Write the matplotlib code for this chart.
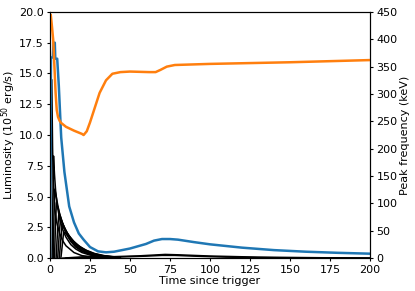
import matplotlib.pyplot as plt

# total luminosity (10^50 erg/s)
t_tot = [0, 0.6, 1.8, 2.2, 3.0, 3.3, 4.5, 5.5, 7, 9, 12, 15, 18, 21, 25, 30, 35, 40,
         50, 60, 65, 70, 75, 80, 90, 100, 120, 140, 160, 180, 200]
lum_tot = [0, 16.3, 16.3, 17.5, 17.5, 16.2, 16.2, 14.0, 9.8, 7.0, 4.2, 2.9, 2.0, 1.5,
           0.9, 0.55, 0.47, 0.52, 0.78, 1.15, 1.42, 1.55, 1.55, 1.5, 1.3, 1.12, 0.85, 0.65,
           0.52, 0.43, 0.36]

# peak frequency (keV)
t_peak = [0.5, 1, 2, 3, 3.5, 4.2, 5, 6, 7, 10, 15, 20, 21, 23, 25, 28, 31, 35, 39, 44, 50,
          62, 66, 69, 73, 78, 100, 150, 200]
e_peak = [444, 430, 399, 335, 302, 271, 258, 251, 247, 240, 233, 227, 225, 232, 248, 275,
          302, 325, 337, 340, 341, 340, 340, 344, 350, 353, 355, 358, 362]

# individual pulses
p_t1 = [0, 0.6, 1.1, 1.6, 2, 3, 4, 6, 8, 10, 15, 20, 30, 40]
p_l1 = [0, 9.0, 14.5, 9.0, 6.5, 4.0, 3.0, 2.0, 1.4, 1.0, 0.45, 0.2, 0.05, 0.01]
p_t2 = [1.3, 1.8, 2.2, 2.8, 3.5, 4.5, 6, 8, 10, 13, 16, 20, 25, 30, 40]
p_l2 = [0, 5.0, 8.3, 6.8, 5.5, 4.3, 3.2, 2.3, 1.7, 1.1, 0.75, 0.45, 0.25, 0.13, 0.03]
p_t3 = [2, 2.5, 3, 4, 5, 6, 8, 10, 13, 16, 20, 25, 30, 40]
p_l3 = [0, 3.5, 5.6, 4.9, 4.2, 3.6, 2.7, 2.0, 1.35, 0.9, 0.55, 0.3, 0.16, 0.04]
p_t4 = [2.8, 3.5, 4, 5, 6, 8, 10, 13, 16, 20, 25, 30, 40]
p_l4 = [0, 3.0, 4.5, 4.1, 3.6, 2.8, 2.1, 1.45, 1.0, 0.6, 0.33, 0.18, 0.05]
p_t5 = [3.8, 4.8, 5.5, 6.5, 8, 10, 13, 16, 20, 25, 30, 40]
p_l5 = [0, 2.4, 3.6, 3.3, 2.8, 2.2, 1.55, 1.1, 0.7, 0.4, 0.22, 0.06]
p_t6 = [4.8, 5.8, 6.5, 7.5, 9, 11, 14, 17, 21, 26, 32, 42]
p_l6 = [0, 2.0, 3.1, 2.9, 2.5, 2.0, 1.45, 1.05, 0.68, 0.38, 0.2, 0.05]
p_t7 = [5.8, 6.8, 7.5, 8.5, 10, 12, 15, 18, 22, 27, 33, 43]
p_l7 = [0, 1.6, 2.6, 2.5, 2.2, 1.8, 1.35, 1.0, 0.66, 0.38, 0.2, 0.05]
p_t8 = [6.8, 7.8, 8.5, 9.5, 11, 13, 16, 19, 23, 28, 34, 44]
p_l8 = [0, 1.2, 2.1, 2.05, 1.85, 1.55, 1.2, 0.9, 0.62, 0.37, 0.2, 0.05]
p_t9 = [8, 20, 40, 55, 65, 72, 80, 100, 130, 170, 200]
p_l9 = [0, 0.1, 0.12, 0.18, 0.25, 0.3, 0.27, 0.17, 0.08, 0.03, 0.01]
p_t10 = [10, 25, 45, 60, 70, 78, 90, 110, 140, 200]
p_l10 = [0, 0.06, 0.1, 0.16, 0.22, 0.22, 0.16, 0.08, 0.03, 0.005]
pulses = [(p_t1, p_l1), (p_t2, p_l2), (p_t3, p_l3), (p_t4, p_l4), (p_t5, p_l5),
          (p_t6, p_l6), (p_t7, p_l7), (p_t8, p_l8), (p_t9, p_l9), (p_t10, p_l10)]

plt.rcParams['font.size'] = 8
plt.rcParams['xtick.major.size'] = 2.5
plt.rcParams['ytick.major.size'] = 2.5
plt.rcParams['xtick.major.pad'] = 2.2
plt.rcParams['ytick.major.pad'] = 2.2
plt.rcParams['axes.linewidth'] = 0.8

fig = plt.figure(figsize=(4.15, 2.91), dpi=100)
ax = fig.add_axes([0.1205, 0.113, 0.771, 0.846])
for t, l in pulses:
    ax.plot(t, l, color='black', lw=1.1)
ax.plot(t_tot, lum_tot, color='#1f77b4', lw=1.8)
ax.set_xlim(0, 200)
ax.set_ylim(0, 20)
ax.set_xlabel("Time since trigger", labelpad=1)
ax.set_ylabel("Luminosity (10$^{50}$ erg/s)", labelpad=0.5)

ax2 = ax.twinx()
ax2.plot(t_peak, e_peak, color='#ff7f0e', lw=1.8)
ax2.set_ylim(0, 450)
ax2.set_ylabel("Peak frequency (keV)", labelpad=1.5)

fig.savefig("out.png")
